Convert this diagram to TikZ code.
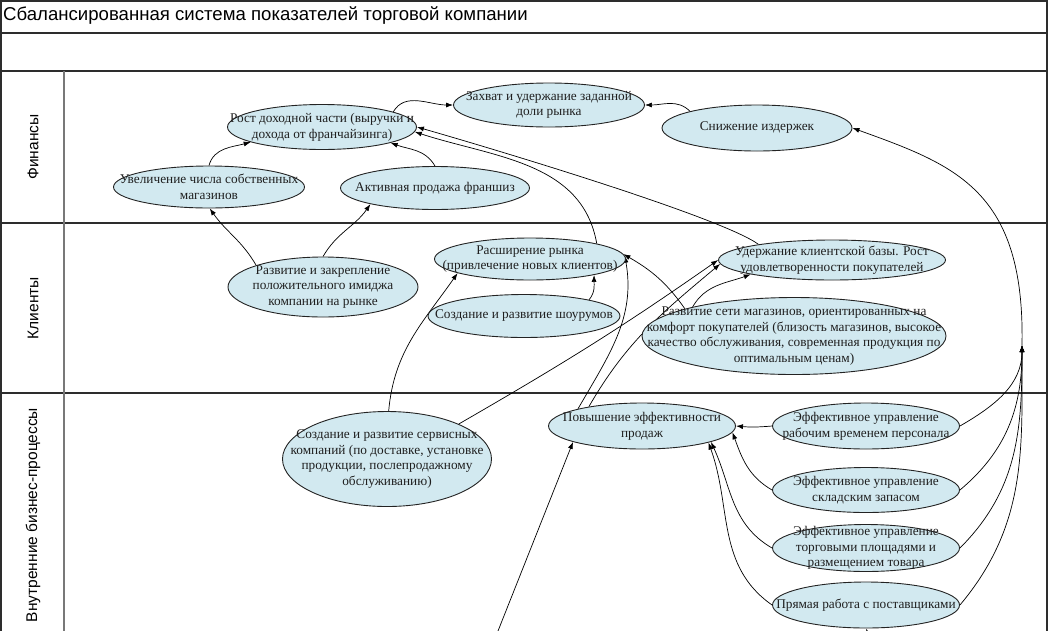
\documentclass[tikz,border=0pt]{standalone}
\usepackage{fontspec}
\setmainfont{Liberation Serif}
\newfontfamily\lanefont{Liberation Sans}
\usetikzlibrary{shapes.geometric,arrows.meta}
\definecolor{ellfill}{RGB}{210,233,240}
\definecolor{framecol}{RGB}{45,45,45}
\definecolor{lanesep}{RGB}{120,120,120}
\definecolor{ellline}{RGB}{35,35,35}
\pgfdeclarelayer{bg}
\pgfsetlayers{bg,main}
\tikzset{
  ell/.style={ellipse, draw=ellline, line width=0.9pt, fill=ellfill, inner sep=0pt},
  etext/.style={align=center, font=\fontsize{13.3}{15.7}\selectfont, text=black!88, inner sep=0pt},
  conn/.style={draw=black, line width=0.7pt, -{Latex[length=7pt,width=5pt]}},
  frame/.style={draw=framecol, line width=1.4pt},
  lanelabel/.style={rotate=90, font=\lanefont\fontsize{15.5}{18}\selectfont, inner sep=0pt},
}
\begin{document}
\begin{tikzpicture}[x=1pt,y=1pt]
\useasboundingbox (0,0) rectangle (1049,-630);
\clip (0,0) rectangle (1049,-630);

% ellipses
\node[ell, minimum width=189pt, minimum height=45pt] (n1) at (322,-127) {};
\node[ell, minimum width=191pt, minimum height=44pt] (n2) at (549,-105) {};
\node[ell, minimum width=190pt, minimum height=46pt] (n3) at (757,-128) {};
\node[ell, minimum width=191pt, minimum height=42pt] (n4) at (209,-187) {};
\node[ell, minimum width=189pt, minimum height=43pt] (n5) at (435,-188) {};
\node[ell, minimum width=190pt, minimum height=60pt] (n6) at (323,-287) {};
\node[ell, minimum width=191pt, minimum height=42pt] (n7) at (530,-259) {};
\node[ell, minimum width=192pt, minimum height=43pt] (n8) at (524,-316) {};
\node[ell, minimum width=227pt, minimum height=40pt] (n9) at (832,-260) {};
\node[ell, minimum width=304pt, minimum height=77pt] (n10) at (794,-336) {};
\node[ell, minimum width=209pt, minimum height=95pt] (n11) at (387,-459) {};
\node[ell, minimum width=187pt, minimum height=46pt] (n12) at (642,-426) {};
\node[ell, minimum width=187pt, minimum height=46pt] (n13) at (866,-426) {};
\node[ell, minimum width=187pt, minimum height=45pt] (n14) at (866,-490) {};
\node[ell, minimum width=187pt, minimum height=47pt] (n15) at (866,-548) {};
\node[ell, minimum width=187pt, minimum height=46pt] (n16) at (866,-605) {};

% texts
\node[etext] (t1) at (n1) {Рост доходной части (выручки и\\дохода от франчайзинга)};
\node[etext] (t2) at (n2) {Захват и удержание заданной\\доли рынка};
\node[etext] (t3) at (n3) {Снижение издержек};
\node[etext] (t4) at (n4) {Увеличение числа собственных\\магазинов};
\node[etext] (t5) at (n5) {Активная продажа франшиз};
\node[etext] (t6) at (n6) {Развитие и закрепление\\положительного имиджа\\компании на рынке};
\node[etext] (t7) at (n7) {Расширение рынка\\(привлечение новых клиентов)};
\node[etext] (t8) at (n8) {Создание и развитие шоурумов};
\node[etext] (t9) at (n9) {Удержание клиентской базы. Рост\\удовлетворенности покупателей};
\node[etext] (t10) at (n10) {Развитие сети магазинов, ориентированных на\\комфорт покупателей (близость магазинов, высокое\\качество обслуживания, современная продукция по\\оптимальным ценам)};
\node[etext] (t11) at (n11) {Создание и развитие сервисных\\компаний (по доставке, установке\\продукции, послепродажному\\обслуживанию)};
\node[etext] (t12) at (n12) {Повышение эффективности\\продаж};
\node[etext] (t13) at (n13) {Эффективное управление\\рабочим временем персонала};
\node[etext] (t14) at (n14) {Эффективное управление\\складским запасом};
\node[etext] (t15) at (n15) {Эффективное управление\\торговыми площадями и\\размещением товара};
\node[etext] (t16) at (n16) {Прямая работа с поставщиками};

% title and lane labels
\node[anchor=west, font=\lanefont\fontsize{18.6}{21}\selectfont, inner sep=0pt] (title) at (3,-16) {Сбалансированная система показателей торговой компании};
\node[lanelabel] (lf) at (33,-147) {Финансы};
\node[lanelabel] (lc) at (33,-308) {Клиенты};
\node[lanelabel] (li) at (33,-515) {Внутренние бизнес-процессы};

\coordinate (J) at (1022,-345);
\coordinate (B) at (496,-636);
\coordinate (B2) at (871,-650);

\begin{pgfonlayer}{bg}
  % frame
  \draw[frame] (1,-640) -- (1,-1) -- (1047,-1) -- (1047,-640);
  \draw[frame] (1,-33) -- (1047,-33);
  \draw[frame] (1,-71) -- (1047,-71);
  \draw[frame] (1,-223) -- (1047,-223);
  \draw[frame] (1,-393) -- (1047,-393);
  \draw[draw=lanesep, line width=1.4pt] (64,-71) -- (64,-640);

  % finance lane
  \draw[conn] (n4.90) to[out=75,in=195] (n1.192);
  \draw[conn] (n5.90) to[out=120,in=-20] (n1.-13);
  \draw[conn] (n1.12) to[out=60,in=180] (n2.180);
  \draw[conn] (n3.166) to[out=135,in=0] (n2.0);

  % clients lane
  \draw[conn] (n6.162) to[out=120,in=-55] (n4.-88);
  \draw[conn] (n6.90) to[out=60,in=235] (n5.194);
  \draw[conn] (n8.14) to[out=50,in=-90] (n7.-14);
  \draw[conn] (n10.166) to[out=125,in=-30] (n7.3);
  \draw[conn] (n10.164) to[out=60,in=200] (n9.190);
  \draw[conn] (n9.168) .. controls (724,-219) and (518,-156) .. (n1.0);
  \draw[conn] (n7.13) to[out=100,in=-18] (n1.-3);

  % internal processes lane
  \draw[conn] (n12.165) to[out=60,in=-80] (n7.2);
  \draw[conn] (n12.160) to[out=60,in=-140] (n9.182);
  \draw[conn] (n11.26) to[out=30,in=-145] (n9.180);
  \draw[conn] (n11.88) to[out=85,in=235] (n7.191);
  \draw[conn] (n13.180) to[out=185,in=-5] (n12.0);
  \draw[conn] (n14.180) to[out=150,in=-70] (n12.-4);
  \draw[conn] (n15.180) to[out=150,in=-65] (n12.-13);
  \draw[conn] (n16.180) to[out=145,in=-70] (n12.-14);
  \draw[conn] (B) -- (n12.193);
  \draw[conn] (B2) -- (n16.-89);

  % to cost reduction
  \draw[conn] (n13.0) to[out=30,in=-90] (J);
  \draw[conn] (n14.0) to[out=40,in=-90] (J);
  \draw[conn] (n15.0) to[out=45,in=-90] (J);
  \draw[conn] (n16.0) to[out=50,in=-90] (J);
  \draw[conn] (J) .. controls (1025,-190) and (955,-165) .. (n3.0);
\end{pgfonlayer}
\end{tikzpicture}
\end{document}
